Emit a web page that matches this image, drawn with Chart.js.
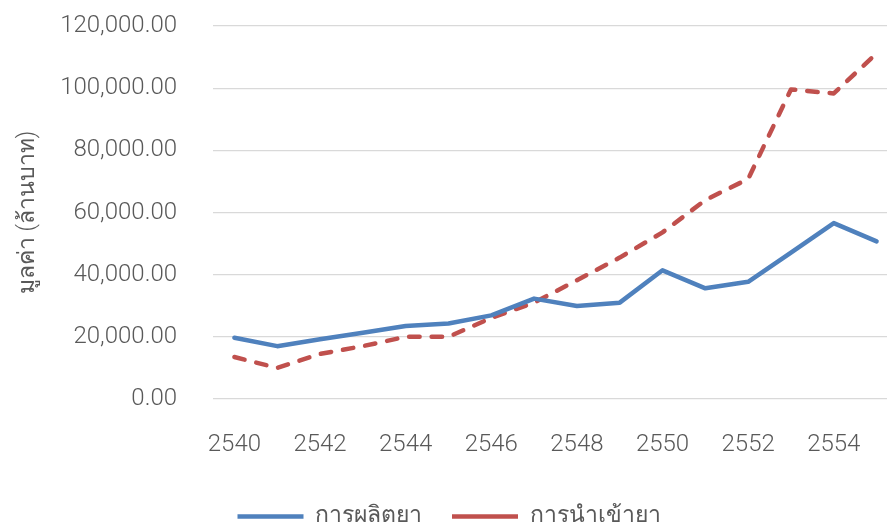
<!DOCTYPE html>
<html>
<head>
<meta charset="utf-8">
<script src="https://cdn.jsdelivr.net/npm/chart.js@4.4.1/dist/chart.umd.min.js"></script>
<style>
  html, body { margin: 0; padding: 0; background: #fff; overflow: hidden; }
  #drugChart { display: block; }
</style>
</head>
<body>
<canvas id="drugChart" width="898" height="538"></canvas>
<script>
const years = ['2540', '2541', '2542', '2543', '2544', '2545', '2546', '2547',
               '2548', '2549', '2550', '2551', '2552', '2553', '2554', '2555'];
const production = [19700, 17000, 19200, 21300, 23500, 24300, 26900, 32300,
                    29900, 31000, 41400, 35600, 37700, 47100, 56600, 50700];
const imports = [13500, 10000, 14500, 17000, 20000, 20000, 26100, 31000,
                 38200, 45500, 53600, 64000, 70800, 99600, 98300, 111200];
const yTicks = [0, 20000, 40000, 60000, 80000, 100000, 120000];

const textColor = '#595959';
const font = 'Roboto, Liberation Sans, sans-serif';

const cvs = document.getElementById('drugChart');

new Chart(cvs, {
    type: 'line',
    data: {
        labels: years,
        datasets: [{
            label: 'การผลิตยา',
            data: production,
            borderColor: '#4F81BD',
            backgroundColor: '#4F81BD',
            borderWidth: 4.5,
            borderCapStyle: 'round',
            borderJoinStyle: 'round',
            pointRadius: 0,
            tension: 0
        }, {
            label: 'การนำเข้ายา',
            data: imports,
            borderColor: '#C0504D',
            backgroundColor: '#C0504D',
            borderWidth: 4.5,
            borderDash: [10.5, 12],
            borderCapStyle: 'round',
            borderJoinStyle: 'round',
            pointRadius: 0,
            tension: 0
        }]
    },
    options: {
        responsive: false,
        devicePixelRatio: 1,
        animation: false,
        layout: { padding: { top: 26, left: 0, right: 0, bottom: 0 } },
        plugins: {
            tooltip: { enabled: false },
            legend: {
                position: 'bottom',
                labels: {
                    usePointStyle: true,
                    pointStyle: 'line',
                    pointStyleWidth: 66,
                    padding: 30,
                    color: textColor,
                    font: { family: font, size: 23, weight: 300 }
                }
            }
        },
        scales: {
            x: {
                offset: true,
                grid: { display: false, drawTicks: false },
                border: { display: false },
                ticks: {
                    autoSkip: false,
                    maxRotation: 0,
                    padding: 32,
                    color: textColor,
                    font: { family: font, size: 24, weight: 300 },
                    callback: function (val, i) { return i % 2 === 0 ? this.getLabelForValue(val) : ''; }
                },
                afterFit: (scale) => {
                    scale.height = 76;
                    scale.paddingLeft = 0;
                    scale.paddingRight = 0;
                }
            },
            y: {
                min: 0,
                max: 120000,
                afterBuildTicks: (scale) => { scale.ticks = yTicks.map(v => ({ value: v })); },
                grid: { color: '#D9D9D9', lineWidth: 1.3, drawTicks: false },
                border: { display: false },
                ticks: {
                    padding: 36,
                    color: textColor,
                    font: { family: font, size: 24, weight: 300 },
                    callback: (v) => v.toLocaleString('en-US', { minimumFractionDigits: 2, maximumFractionDigits: 2 })
                },
                title: {
                    display: true,
                    text: 'มูลค่า (ล้านบาท)',
                    color: textColor,
                    font: { family: font, size: 23, weight: 300 },
                    padding: { top: 14, bottom: 0 }
                },
                afterFit: (scale) => {
                    // the tick padding only pushes labels sideways, not the plot edges
                    scale.width = 213;
                    scale.paddingTop = 12;
                    scale.paddingBottom = 12;
                }
            }
        }
    }
});
</script>
</body>
</html>
